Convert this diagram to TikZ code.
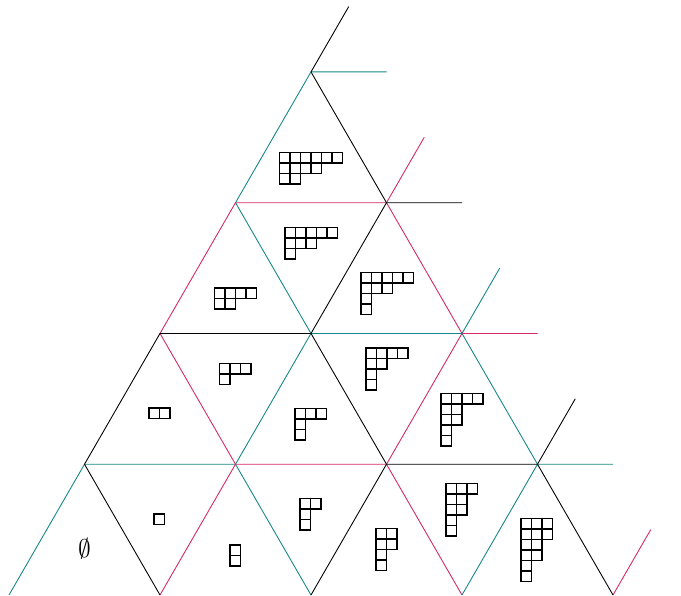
\documentclass[tikz,border=0pt]{standalone}
\usepackage{amsmath,amssymb}
\usepackage{xcolor}
\usepackage{tikz}
\usetikzlibrary{calc}

\definecolor{latteal}{RGB}{20,135,135}
\definecolor{latpink}{RGB}{214,40,100}

% young diagram: top left corner (px), then the row lengths
\newcommand{\ydiag}[3]{%
  \begin{scope}[shift={(#1,#2)},x=0.2086cm,y=-0.2086cm]
    \foreach \len [count=\r from 0] in {#3}{
      \foreach \c in {1,...,\len}
        \draw[cell] (\c-1,\r) rectangle (\c,\r+1);
    }
  \end{scope}}

\begin{document}
\begin{tikzpicture}[x=0.019868cm,y=-0.019868cm,
    edge/.style={line width=0.5pt},
    tealedge/.style={edge,latteal},
    pinkedge/.style={edge,latpink},
    blackedge/.style={edge,black},
    cell/.style={line width=0.75pt}]
  \useasboundingbox (0,0) rectangle (681,596);
  % lattice points and the half edges on the rim
  \foreach \j in {0,...,4}{
    \foreach \i in {0,...,4}
      \coordinate (v\i\j) at ({9+151*\i+75.5*\j},{595-130.77*\j});
  }
  \foreach \i in {0,...,4}{
    \coordinate (up\i) at ({9+151*\i+75.5*(4.5-\i)},{595-130.77*(4.5-\i)});
    \coordinate (rt\i) at ({9+151*(\i+0.5)+75.5*(4-\i)},{595-130.77*(4-\i)});
  }
  \draw[tealedge] (v01)--(v11) (v12)--(v22) (v04)--(rt0) (v31)--(rt3)
    (v00)--(v01) (v03)--(v04) (v11)--(v12) (v30)--(v31) (v22)--(up2)
    (v03)--(v12) (v22)--(v31) (v11)--(v20);
  \draw[pinkedge] (v03)--(v13) (v11)--(v21) (v22)--(rt2)
    (v02)--(v03) (v10)--(v11) (v21)--(v22) (v13)--(up1) (v40)--(up4)
    (v13)--(v22) (v02)--(v11) (v21)--(v30);
  \draw[blackedge] (v02)--(v12) (v21)--(v31) (v13)--(rt1)
    (v01)--(v02) (v12)--(v13) (v20)--(v21) (v04)--(up0) (v31)--(up3)
    (v04)--(v13) (v12)--(v21) (v01)--(v10) (v31)--(v40);
  % the diagrams
  \node (empty) at (84.5,549) {\Large$\emptyset$};
  \ydiag{154}{514}{1}
  \ydiag{230}{545}{1,1}
  \ydiag{149}{408}{2}
  \ydiag{219.5}{363.5}{3,1}
  \ydiag{214.5}{288}{4,2}
  \ydiag{300}{498.5}{2,1,1}
  \ydiag{295}{408.5}{3,1,1}
  \ydiag{376}{528.5}{2,2,1,1}
  \ydiag{285}{227.5}{5,3,1}
  \ydiag{279.5}{152.5}{6,4,2}
  \ydiag{366}{348}{4,2,1,1}
  \ydiag{361}{272.5}{5,3,1,1}
  \ydiag{446}{483.5}{3,2,2,1,1}
  \ydiag{441}{393.5}{4,2,2,1,1}
  \ydiag{521}{518.5}{3,3,2,2,1,1}
\end{tikzpicture}
\end{document}
